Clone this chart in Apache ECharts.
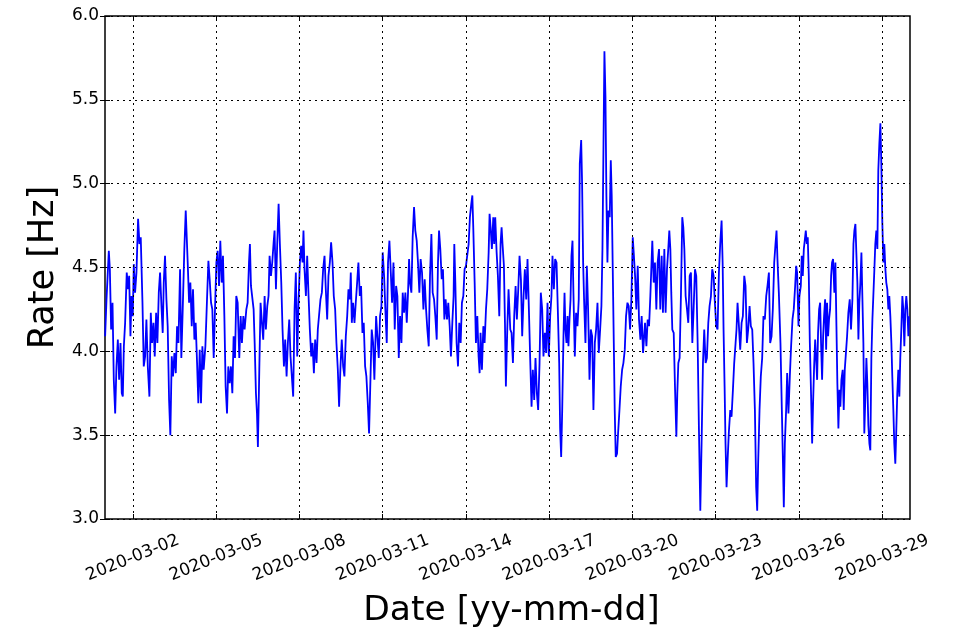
<!DOCTYPE html>
<html>
<head>
<meta charset="utf-8">
<script src="https://cdn.jsdelivr.net/npm/echarts@6/dist/echarts.min.js"></script>
<style>
html,body{margin:0;padding:0;background:#fff;}
#chart{width:956px;height:635px;}
</style>
</head>
<body>
<div id="chart"></div>
<script>
// Hours since 2020-03-01 00:00 UTC, paired with rate in Hz
const startDate = Date.UTC(2020, 2, 1);
const week1 = [[0.1,4.09],[1.3,4.31],[3.3,4.60],[4.2,4.49],[5.3,4.13],[6.5,4.29],[7.6,3.83],[8.8,3.63],[9.9,3.91],[11.1,4.07],[12.2,3.83],[13.4,4.05],[14.5,3.75],[15.4,3.73],[16.3,4.03],[17.4,4.17],[18.8,4.47],[20.0,4.37],[20.9,4.45],[22.0,4.09],[22.9,4.33],[24.0,4.21],[24.9,4.52],[26.0,4.35],[27.2,4.47],[28.6,4.79],[29.8,4.64],[30.9,4.68],[32.4,4.29],[33.5,3.91],[34.7,3.97],[35.8,4.19],[37.0,3.91],[38.4,3.73],[39.6,4.23],[40.7,4.05],[41.9,4.17],[43.0,3.97],[44.2,4.23],[45.3,4.05],[46.5,4.35],[47.6,4.47],[48.8,4.27],[49.9,4.11],[50.8,4.41],[51.9,4.57],[53.1,4.31],[54.2,4.15],[55.4,3.71],[56.5,3.50],[57.7,3.97],[58.8,3.85],[60.0,3.99],[61.2,3.87],[62.3,4.15],[63.5,4.05],[64.9,4.49],[66.0,3.96],[67.2,4.25],[68.6,4.61],[69.8,4.84],[70.6,4.84],[71.5,4.53],[72.7,4.29],[73.8,4.41],[75.0,4.15],[76.1,4.37],[77.3,4.07],[78.4,4.17],[79.6,3.93],[80.7,3.69],[81.9,4.01],[83.0,3.69],[84.2,4.03],[85.3,3.89],[86.8,4.03],[88.2,4.31],[89.4,4.54],[90.5,4.43],[91.7,4.29],[92.8,4.25],[94.0,3.96],[95.1,4.25],[96.3,4.53],[97.4,4.60],[98.6,4.39],[99.7,4.66],[100.9,4.41],[102.0,4.57],[103.2,4.21],[104.3,3.79],[105.5,3.63],[106.6,3.91],[107.8,3.81],[108.9,3.91],[110.1,3.75],[111.2,4.09],[112.4,3.96],[113.5,4.33],[114.7,4.29],[116.1,3.96],[117.3,4.21],[118.4,4.05],[119.6,4.21],[120.7,4.13],[122.2,4.25],[123.3,4.29],[124.5,4.53],[125.3,4.64],[126.2,4.39],[127.3,4.39],[128.5,4.25],[129.4,4.05],[130.5,3.75],[131.4,3.63],[132.2,3.43],[133.4,3.89],[134.5,4.29],[135.7,4.17],[136.8,4.07],[138.0,4.33],[139.1,4.13],[140.3,4.27],[141.4,4.33],[142.3,4.57],[143.5,4.45],[144.6,4.53],[145.8,4.65],[146.6,4.72],[147.8,4.37],[148.9,4.64],[150.1,4.88],[151.2,4.64],[152.4,4.41],[153.5,4.13],[154.7,3.91],[155.8,4.07],[157.0,3.85],[158.1,4.05],[159.3,4.19],[160.4,3.97],[161.6,3.96],[162.7,3.73],[163.9,4.25],[165.0,4.47],[166.2,3.97],[167.3,4.29]];
const week2 = [[168.5,4.53],[169.6,4.63],[170.8,4.53],[171.6,4.72],[172.5,4.49],[173.7,4.33],[174.8,4.57],[176.0,4.33],[177.1,4.13],[178.3,3.97],[179.4,4.05],[180.6,3.87],[181.7,4.07],[182.9,3.93],[184.0,4.13],[185.2,4.13],[186.3,4.31],[187.5,4.35],[188.6,4.49],[189.8,4.57],[190.9,4.37],[192.1,4.19],[193.2,4.45],[194.4,4.53],[195.5,4.65],[196.7,4.53],[197.8,4.33],[199.0,4.25],[200.1,4.05],[201.3,3.89],[202.4,3.67],[203.6,3.91],[204.7,4.07],[205.9,3.91],[207.0,3.85],[208.2,4.09],[209.4,4.21],[210.5,4.37],[211.7,4.31],[212.5,4.47],[213.4,4.17],[214.5,4.29],[215.7,4.17],[216.8,4.29],[218.0,4.41],[219.1,4.53],[220.3,4.33],[221.4,4.39],[222.6,4.11],[223.7,4.17],[224.9,3.91],[226.0,3.85],[227.2,3.69],[228.3,3.51],[229.5,3.83],[230.6,4.13],[231.8,4.05],[232.9,3.83],[234.4,4.21],[235.5,4.09],[236.7,3.96],[237.8,4.21],[239.0,4.27],[240.1,4.59],[241.3,4.45],[242.4,4.25],[243.6,4.05],[244.7,4.53],[245.9,4.66],[247.1,4.47],[248.2,4.29],[249.4,4.53],[250.5,4.13],[251.7,4.39],[252.8,4.33],[254.0,3.96],[255.1,4.21],[256.3,4.05],[257.4,4.35],[258.6,4.23],[259.7,4.35],[260.9,4.17],[262.0,4.35],[262.9,4.55],[263.7,4.41],[264.9,4.35],[266.0,4.68],[267.2,4.86],[268.3,4.72],[269.5,4.66],[270.6,4.53],[271.8,4.35],[272.9,4.55],[274.1,4.47],[275.3,4.25],[276.4,4.43],[277.6,4.25],[278.7,4.13],[279.9,4.03],[281.0,4.45],[282.2,4.70],[283.3,4.35],[284.5,4.31],[285.6,4.21],[286.8,4.07],[287.9,4.53],[288.8,4.72],[289.9,4.61],[291.1,4.43],[292.2,4.49],[293.4,4.19],[294.5,4.31],[295.7,4.19],[296.8,4.29],[298.0,4.15],[299.1,3.97],[300.3,4.17],[301.4,4.33],[302.0,4.64],[302.9,4.41],[304.0,4.05],[305.2,3.91],[306.3,4.17],[307.5,4.05],[308.6,4.29],[309.8,4.33],[310.9,4.49],[312.1,4.51],[313.2,4.51],[314.4,4.64],[315.5,4.80],[316.7,4.88],[317.6,4.93],[318.4,4.74],[319.6,4.41],[320.7,4.05],[321.9,4.21],[323.0,3.97],[323.9,3.87],[324.7,4.11],[325.9,3.89],[327.1,4.15],[328.2,4.05],[329.4,4.25],[330.5,4.37],[331.7,4.59],[332.5,4.82],[333.4,4.74],[334.5,4.61],[335.7,4.80]];
const week3 = [[336.5,4.64],[337.4,4.80],[338.6,4.59],[339.7,4.45],[340.9,4.21],[342.0,4.64],[342.9,4.74],[343.7,4.64],[344.9,4.51],[345.8,4.17],[346.6,3.79],[347.8,4.13],[348.9,4.37],[350.4,4.13],[351.5,4.11],[352.7,3.93],[353.8,4.21],[355.0,4.39],[356.1,4.19],[357.3,4.37],[358.4,4.57],[359.6,4.43],[360.7,4.09],[361.9,4.33],[363.0,4.49],[364.2,4.31],[365.3,4.55],[366.5,4.25],[367.6,3.96],[368.8,3.67],[369.9,3.89],[371.1,3.71],[372.2,3.96],[373.4,3.75],[374.5,3.65],[375.7,3.93],[376.8,4.35],[378.0,4.25],[379.1,3.97],[380.3,4.11],[381.4,3.99],[382.6,4.29],[383.7,3.97],[384.9,4.21],[386.0,4.33],[386.9,4.57],[388.1,4.37],[389.2,4.55],[390.4,4.53],[391.5,4.25],[392.7,3.93],[393.5,3.54],[394.4,3.37],[395.3,3.65],[396.4,4.09],[397.3,4.35],[398.1,4.13],[399.0,4.05],[399.9,4.21],[400.7,4.03],[401.6,4.19],[402.5,4.31],[403.3,4.57],[404.2,4.66],[405.0,4.35],[406.2,3.97],[407.3,4.23],[408.5,4.15],[409.6,4.31],[410.5,5.12],[411.7,5.26],[412.5,5.00],[413.4,4.53],[414.2,4.31],[415.4,4.05],[416.6,4.51],[417.7,4.25],[418.9,3.83],[420.0,4.13],[421.2,4.09],[422.3,3.65],[423.5,4.05],[424.6,4.13],[425.8,4.29],[426.9,3.99],[428.1,4.13],[429.2,4.27],[430.1,4.61],[431.0,5.24],[431.8,5.79],[432.7,5.52],[433.5,4.93],[434.4,4.53],[435.3,4.84],[436.4,4.80],[437.3,5.14],[438.1,4.93],[439.0,4.49],[439.9,4.05],[440.7,3.65],[441.6,3.37],[442.7,3.39],[443.6,3.51],[444.8,3.65],[445.9,3.79],[447.1,3.89],[448.2,3.93],[449.4,4.01],[450.5,4.21],[451.7,4.29],[452.8,4.27],[454.0,4.13],[455.1,4.31],[456.3,4.68],[457.1,4.59],[458.3,4.45],[459.4,4.25],[460.6,4.51],[461.7,4.19],[462.9,4.07],[464.0,4.21],[465.2,3.99],[466.9,4.17],[468.1,4.03],[469.2,4.19],[470.4,4.15],[471.5,4.33],[473.2,4.66],[474.4,4.41],[475.5,4.53],[476.7,4.25],[477.8,4.53],[479.0,4.61],[480.1,4.25],[481.3,4.57],[482.4,4.23],[483.6,4.61],[484.7,4.23],[485.9,4.49],[487.0,4.61],[487.9,4.72],[488.8,4.61],[489.6,4.35],[490.5,4.13],[491.7,4.11],[492.8,3.79],[494.0,3.49],[494.8,3.75],[495.7,3.93],[496.8,3.96],[498.0,4.35],[499.1,4.80],[500.0,4.74],[500.9,4.61],[502.0,4.33],[503.2,4.25]];
const week4 = [[504.3,4.17],[505.5,4.45],[506.6,4.47],[507.8,4.05],[508.9,4.25],[510.1,4.49],[511.2,4.45],[512.4,4.05],[513.5,3.54],[514.7,3.05],[515.8,3.45],[517.0,3.93],[518.1,4.13],[519.3,3.93],[520.4,3.96],[521.6,4.17],[522.7,4.27],[523.9,4.33],[525.0,4.49],[526.2,4.45],[527.3,4.29],[528.5,4.15],[529.6,4.13],[530.8,4.47],[531.9,4.64],[533.1,4.78],[534.0,4.53],[534.8,4.13],[535.7,3.79],[536.5,3.45],[537.4,3.19],[538.3,3.35],[539.4,3.52],[540.6,3.65],[541.7,3.61],[542.9,3.77],[544.0,3.93],[545.2,4.05],[546.0,4.13],[546.9,4.29],[548.1,4.15],[549.2,4.01],[550.4,4.17],[551.5,4.21],[552.7,4.45],[553.8,4.39],[555.0,4.05],[556.1,4.13],[557.3,4.27],[558.4,4.15],[559.6,4.13],[560.7,3.93],[561.9,3.65],[563.0,3.19],[563.9,3.05],[564.7,3.33],[565.9,3.65],[567.0,3.85],[568.2,3.96],[569.3,4.21],[570.5,4.19],[571.7,4.33],[572.8,4.39],[574.0,4.47],[575.1,4.05],[576.3,4.09],[577.4,4.25],[578.6,4.53],[579.7,4.64],[580.6,4.72],[581.4,4.55],[582.6,4.35],[584.0,4.05],[585.2,3.65],[586.3,3.29],[586.9,3.07],[587.8,3.45],[588.9,3.65],[589.8,3.87],[590.9,3.63],[592.1,3.85],[593.2,4.03],[594.4,4.19],[595.5,4.25],[596.7,4.39],[597.6,4.51],[598.4,4.47],[599.6,4.15],[600.4,4.33],[601.6,4.39],[602.4,4.57],[603.3,4.45],[604.2,4.61],[605.0,4.66],[605.9,4.72],[606.8,4.64],[607.6,4.68],[608.5,4.45],[609.4,4.05],[610.5,3.73],[611.4,3.45],[612.2,3.69],[613.1,3.91],[614.0,4.07],[614.8,3.96],[615.7,3.83],[616.5,4.11],[617.4,4.25],[618.3,4.29],[619.1,4.05],[620.0,3.83],[620.9,4.09],[621.7,4.21],[622.6,4.31],[623.5,4.01],[624.3,4.29],[625.2,4.09],[626.0,4.19],[626.9,4.25],[627.8,4.45],[628.6,4.53],[629.5,4.55],[630.6,4.35],[631.5,4.53],[632.4,4.15],[633.2,3.81],[634.1,3.54],[635.0,3.77],[635.8,3.67],[636.7,3.83],[637.8,3.89],[638.7,3.65],[639.6,3.89],[640.4,3.97],[641.6,4.09],[642.7,4.23],[643.9,4.31],[645.0,4.13],[646.2,4.31],[647.1,4.64],[647.9,4.72],[648.8,4.76],[649.6,4.59],[650.5,4.41],[651.4,4.07],[652.2,4.29],[653.1,4.41],[654.0,4.59],[654.8,4.33],[655.7,4.05],[656.5,3.51],[657.4,3.73],[658.3,3.96],[659.1,3.81],[660.0,3.56],[660.9,3.45],[661.7,3.41],[662.6,3.96],[663.5,4.19],[664.3,4.33],[665.2,4.49],[666.0,4.64],[666.9,4.72],[667.8,4.61],[668.6,5.08],[669.5,5.24],[670.4,5.36],[671.2,5.12],[672.1,4.76],[673.0,4.53],[673.8,4.64],[674.7,4.49],[675.5,4.41],[676.4,4.37],[677.3,4.25],[678.1,4.33],[679.0,4.21],[679.9,4.05],[680.7,3.85],[681.6,3.65],[682.4,3.45],[683.3,3.33],[684.2,3.54],[685.0,3.75],[685.9,3.89],[686.8,3.73],[687.6,3.96],[688.5,4.13],[689.4,4.33],[690.2,4.25],[691.1,4.03],[692.0,4.25],[692.8,4.33],[693.7,4.25],[694.6,4.09],[695.1,4.21]];

const xRangeHours = [0, 696];
const xTickHours = [24, 96, 168, 240, 312, 384, 456, 528, 600, 672];
const yRange = [3.0, 6.0];
const yStep = 0.5;

const FONT = 'DejaVu Sans';
function fmtDate(v) {
  const d = new Date(startDate + v * 3600e3);
  const mm = String(d.getUTCMonth() + 1).padStart(2, '0');
  const dd = String(d.getUTCDate()).padStart(2, '0');
  return d.getUTCFullYear() + '-' + mm + '-' + dd;
}
const gridDash = { type: [2, 4], color: '#000', width: 1 };

const chart = echarts.init(document.getElementById('chart'), null, { renderer: 'canvas' });
chart.setOption({
  animation: false,
  backgroundColor: '#fff',
  grid: { left: 105, right: 46, top: 16, bottom: 116, show: true, borderColor: '#000', borderWidth: 1.5, backgroundColor: 'transparent' },
  xAxis: [{
    type: 'value', min: xRangeHours[0], max: xRangeHours[1], position: 'bottom',
    axisLine: { show: false },
    axisTick: { show: true, inside: true, length: 5, customValues: xTickHours, lineStyle: { color: '#000', width: 1 } },
    axisLabel: { customValues: xTickHours, formatter: fmtDate, rotate: 22, align: 'center', verticalAlign: 'middle', margin: 39,
      fontFamily: FONT, fontSize: 17, color: '#000' },
    splitLine: { show: false },
    name: 'Date [yy-mm-dd]', nameLocation: 'middle', nameGap: 75,
    nameTextStyle: { fontFamily: FONT, fontSize: 34.5, color: '#000', padding: [0, 0, 0, 8] }
  }, {
    type: 'value', min: xRangeHours[0], max: xRangeHours[1], position: 'top',
    axisLine: { show: false },
    axisTick: { show: true, inside: true, length: 5, customValues: xTickHours, lineStyle: { color: '#000', width: 1 } },
    axisLabel: { show: false, customValues: xTickHours },
    splitLine: { show: false }
  }],
  yAxis: [{
    type: 'value', min: yRange[0], max: yRange[1], interval: yStep, position: 'left',
    axisLine: { show: false },
    axisTick: { show: true, inside: true, length: 5, lineStyle: { color: '#000', width: 1 } },
    axisLabel: { formatter: v => v.toFixed(1), margin: 6, fontFamily: FONT, fontSize: 17, color: '#000' },
    splitLine: { show: true, lineStyle: gridDash },
    name: 'Rate [Hz]', nameLocation: 'middle', nameGap: 43,
    nameTextStyle: { fontFamily: FONT, fontSize: 35, color: '#000' }
  }, {
    type: 'value', min: yRange[0], max: yRange[1], interval: yStep, position: 'right',
    axisLine: { show: false },
    axisTick: { show: true, inside: true, length: 5, lineStyle: { color: '#000', width: 1 } },
    axisLabel: { show: false },
    splitLine: { show: false }
  }],
  series: [{
    type: 'line', xAxisIndex: 0, yAxisIndex: 0, data: [], z: 1, silent: true,
    markLine: {
      silent: true, symbol: ['none', 'none'], label: { show: false },
      lineStyle: gridDash, animation: false,
      data: xTickHours.map(h => ({ xAxis: h }))
    }
  }, {
    type: 'line', xAxisIndex: 0, yAxisIndex: 0, z: 3,
    data: week1.concat(week2, week3, week4),
    showSymbol: false, symbol: 'none',
    lineStyle: { color: '#0000ff', width: 1.8 },
    itemStyle: { color: '#0000ff' }
  }]
});
</script>
</body>
</html>
